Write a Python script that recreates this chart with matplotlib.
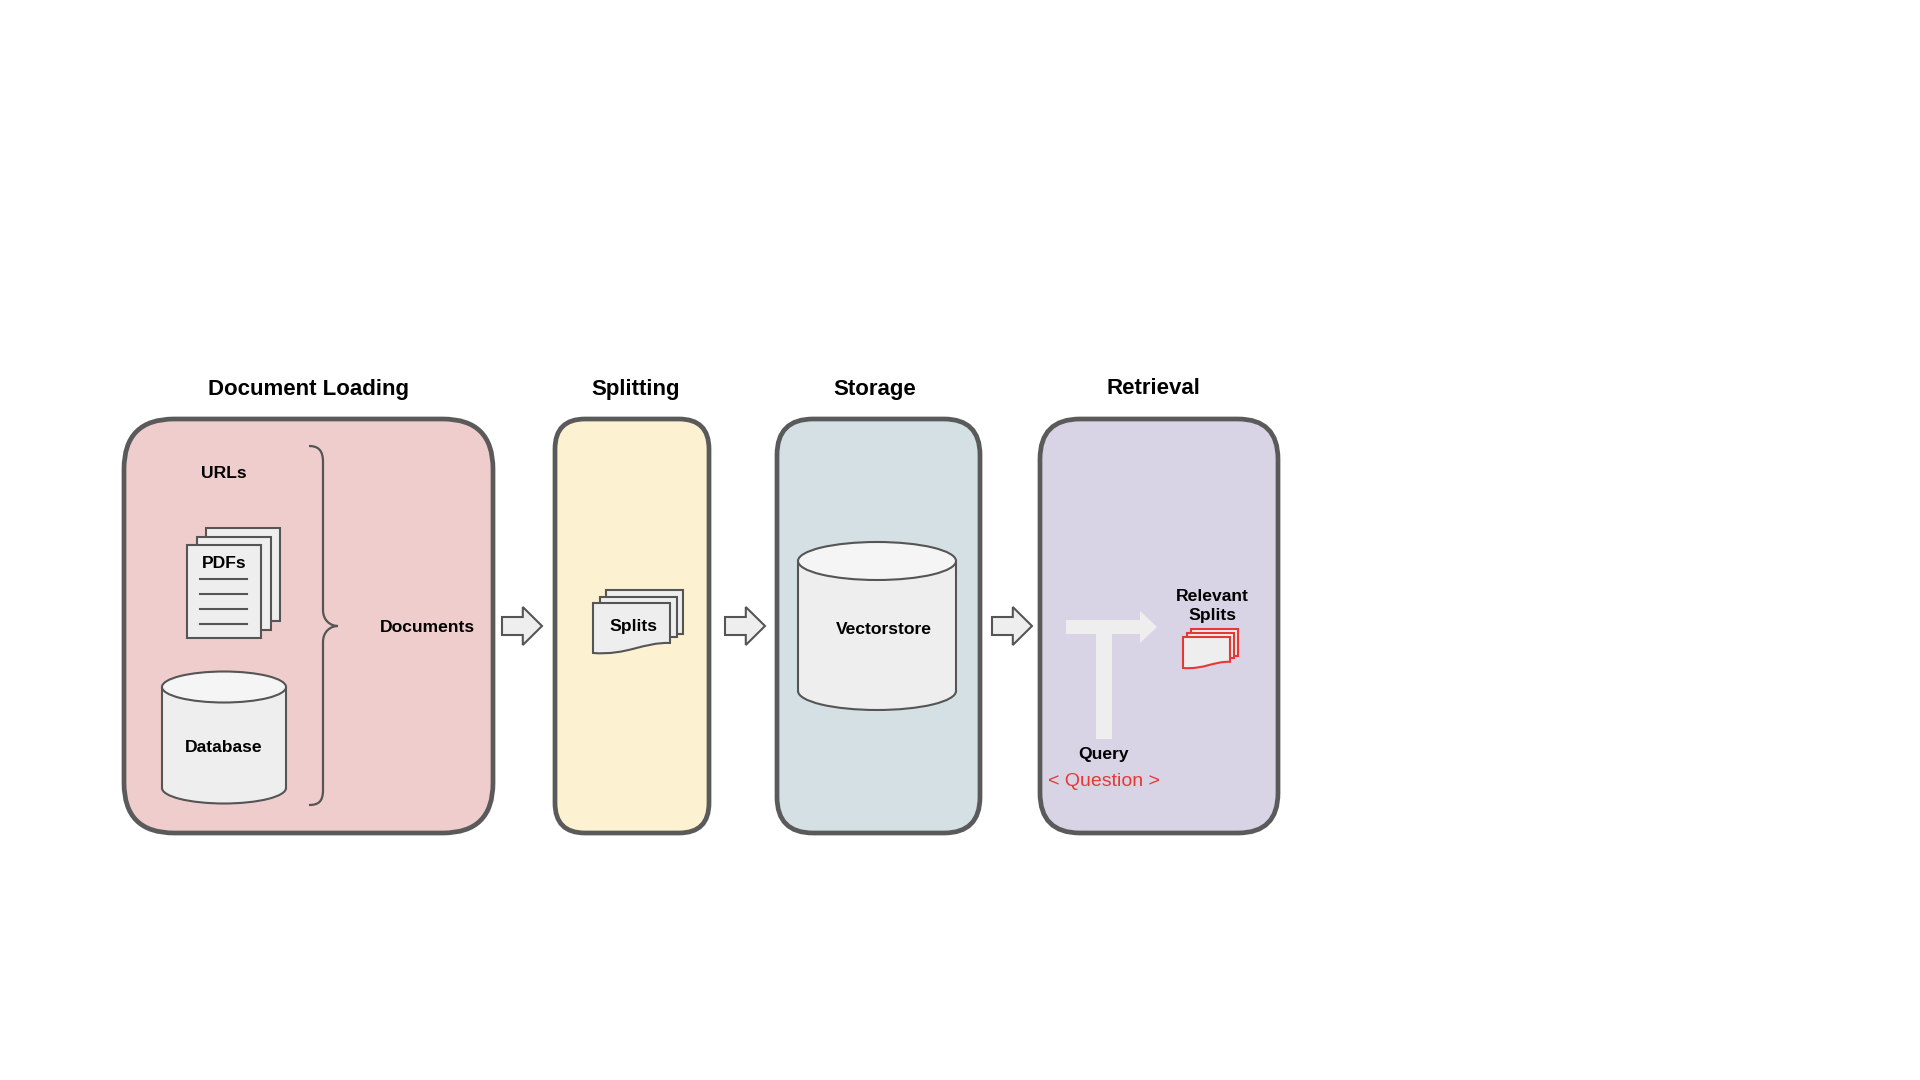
import matplotlib
matplotlib.use("Agg")
import matplotlib.pyplot as plt
from matplotlib.patches import FancyBboxPatch, Rectangle, Ellipse, Polygon, PathPatch
from matplotlib.path import Path

# stages of the pipeline
stageTitles = ["Document Loading", "Splitting", "Storage", "Retrieval"]
stageColors = ["#f0cdcd", "#fcf1d0", "#d5e0e5", "#d9d3e6"]
sourceLabels = ["URLs", "PDFs", "Database"]
docLabel = "Documents"
splitLabel = "Splits"
storeLabel = "Vectorstore"
relevantLabel = "Relevant\nSplits"
queryLabel = "Query"
questionLabel = "< Question >"

# layout in pixels (x0, x1, radius)
boxLayout = [(124, 493, 50), (555, 709, 30), (777, 980, 36), (1040, 1278, 40)]
titleX = [309, 636, 875, 1153]
boxTop, boxBottom = 419, 833
titleY = 389
arrowX = [502, 725, 992]
midY = 626

edgeGray = "#5a5a5a"
iconGray = "#555555"
paper = "#eeeeee"
red = "#e53935"
font = ["Liberation Sans", "DejaVu Sans"]

fig = plt.figure(figsize=(19.2, 10.8), dpi=100)
ax = fig.add_axes([0, 0, 1, 1])
ax.set_xlim(0, 1920)
ax.set_ylim(1080, 0)
ax.axis("off")


def label(x, y, s, size=12.6, color="black", weight="bold", spacing=1.2):
    ax.text(x, y, s, ha="center", va="center", fontsize=size, color=color,
            fontweight=weight, family=font, zorder=10, linespacing=spacing)


def cylinder(x0, x1, yTop, yBottom, h):
    cx = (x0 + x1) / 2
    w = x1 - x0
    ax.add_patch(Ellipse((cx, yBottom), w, h, fc=paper, ec=iconGray, lw=1.5, zorder=3))
    ax.add_patch(Rectangle((x0, yTop), w, yBottom - yTop, fc=paper, ec="none", zorder=4))
    ax.plot([x0, x0], [yTop, yBottom], color=iconGray, lw=1.5, zorder=5)
    ax.plot([x1, x1], [yTop, yBottom], color=iconGray, lw=1.5, zorder=5)
    ax.add_patch(Ellipse((cx, yTop), w, h, fc="#f5f5f5", ec=iconGray, lw=1.5, zorder=6))


def pageStack(x0, y0, w, h, step, ec):
    # two plain pages behind, wavy front page
    for k in (2, 1):
        ax.add_patch(Rectangle((x0 + k * step, y0 - k * step), w, h - 2 * step + k * 0.5 * step,
                               fc=paper, ec=ec, lw=1.5, zorder=4))
    x1 = x0 + w
    yb = y0 + h
    verts = [(x0, y0), (x1, y0), (x1, yb - 0.2 * h),
             (x1 - 0.35 * w, yb - 0.22 * h), (x0 + 0.45 * w, yb + 0.05 * h), (x0, yb),
             (x0, y0)]
    codes = [Path.MOVETO, Path.LINETO, Path.LINETO,
             Path.CURVE4, Path.CURVE4, Path.CURVE4, Path.CLOSEPOLY]
    ax.add_patch(PathPatch(Path(verts, codes), fc=paper, ec=ec, lw=1.5, zorder=5))


def blockArrow(x0, y, length=40):
    hx = x0 + length * 0.52
    pts = [(x0, y - 9), (hx, y - 9), (hx, y - 19), (x0 + length, y),
           (hx, y + 19), (hx, y + 9), (x0, y + 9)]
    ax.add_patch(Polygon(pts, closed=True, fc=paper, ec=iconGray, lw=1.5, zorder=4))


# stage boxes and titles
for title, color, (x0, x1, r), tx in zip(stageTitles, stageColors, boxLayout, titleX):
    ax.add_patch(FancyBboxPatch((x0, boxTop), x1 - x0, boxBottom - boxTop,
                                boxstyle=f"round,pad=0,rounding_size={r}",
                                fc=color, ec=edgeGray, lw=3.4, zorder=1))
    label(tx, titleY, title, size=16)

for x in arrowX:
    blockArrow(x, midY)

# document loading
label(224, 474, sourceLabels[0])
for k in (2, 1, 0):
    ax.add_patch(Rectangle((187 + 9.5 * k, 545 - 8.5 * k), 74, 93,
                           fc=paper, ec=iconGray, lw=1.5, zorder=4 + (2 - k)))
label(224, 563, sourceLabels[1])
for yl in [579, 594, 609, 624]:
    ax.plot([200, 247], [yl, yl], color=iconGray, lw=1.5, zorder=8)
cylinder(162, 286, 687, 788, 31)
label(224, 748, sourceLabels[2])

brace = [(309, 446), (318, 446), (323, 450), (323, 462), (323, 610),
         (323, 620), (330, 626), (338, 626),
         (330, 626), (323, 632), (323, 642), (323, 790),
         (323, 802), (318, 805), (309, 805)]
braceCodes = [Path.MOVETO, Path.CURVE4, Path.CURVE4, Path.CURVE4, Path.LINETO,
              Path.CURVE4, Path.CURVE4, Path.CURVE4,
              Path.CURVE4, Path.CURVE4, Path.CURVE4, Path.LINETO,
              Path.CURVE4, Path.CURVE4, Path.CURVE4]
ax.add_patch(PathPatch(Path(brace, braceCodes), fc="none", ec=iconGray, lw=1.6, zorder=4))
label(427, 628, docLabel)

# splitting
pageStack(593, 603, 77, 50, 6.5, iconGray)
label(633, 627, splitLabel)

# storage
cylinder(798, 956, 561, 691, 38)
label(884, 629, storeLabel)

# retrieval
tArrow = [(1096, 739), (1096, 634), (1066, 634), (1066, 620), (1140, 620), (1140, 611),
          (1157, 627), (1140, 643), (1140, 634), (1112, 634), (1112, 739)]
ax.add_patch(Polygon(tArrow, closed=True, fc="#eeeeee", ec="none", zorder=3))
label(1212, 606, relevantLabel, spacing=1.35)
pageStack(1183, 637, 47, 31, 4, red)
label(1104, 755, queryLabel)
label(1104, 781, questionLabel, size=14, color=red, weight="normal")

fig.savefig("out.png", dpi=100, facecolor="white")
